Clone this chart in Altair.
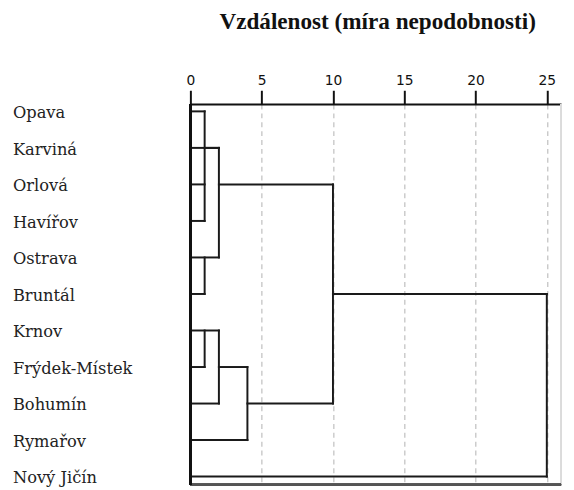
import altair as alt
import pandas as pd

# Leaves (top to bottom) of the dendrogram
cities = ["Opava", "Karviná", "Orlová", "Havířov", "Ostrava", "Bruntál",
          "Krnov", "Frýdek-Místek", "Bohumín", "Rymařov", "Nový Jičín"]
rows = list(range(len(cities)))

# Dendrogram segments: distance from/to and row from/to
seg_x1 = [0, 0, 0, 0, 0, 0, 0, 0, 0, 0, 0,
          1, 1, 2, 2, 1, 1, 2, 2, 4, 4, 10, 10, 25]
seg_x2 = [1, 2, 1, 1, 2, 1, 2, 1, 2, 4, 25,
          1, 2, 2, 10, 1, 1, 2, 4, 4, 10, 10, 25, 25]
seg_y1 = [0, 1, 2, 3, 4, 5, 6, 7, 8, 9, 10,
          0, 1, 1, 2, 4, 6, 6, 7, 7, 8, 2, 5, 5]
seg_y2 = [0, 1, 2, 3, 4, 5, 6, 7, 8, 9, 10,
          3, 1, 4, 2, 5, 7, 8, 7, 9, 8, 8, 5, 10]

tick_values = [0, 5, 10, 15, 20, 25]
title_text = "Vzdálenost (míra nepodobnosti)"

W, H = 376, 386
x_scale = alt.Scale(domain=[0, 26], nice=False, zero=False)
y_scale = alt.Scale(domain=[-0.2, 10.22], nice=False, zero=False, reverse=True)

segs = pd.DataFrame({"x1": seg_x1, "x2": seg_x2, "y1": seg_y1, "y2": seg_y2})
labels = pd.DataFrame({"city": cities, "row": rows})

dendro = alt.Chart(segs).mark_rule(color="#1a1a1a", strokeWidth=2, strokeCap="square").encode(
    x=alt.X("x1:Q", scale=x_scale,
            axis=alt.Axis(orient="top", values=tick_values, title=None,
                          grid=True, gridColor="#c4c4c4", gridDash=[5, 4], gridWidth=1.3,
                          domainColor="#111", domainWidth=2,
                          tickColor="#111", tickWidth=2, tickSize=14,
                          labelFont="DejaVu Sans", labelFontSize=14, labelColor="#111",
                          labelPadding=3, labelFlush=False)),
    x2="x2:Q",
    y=alt.Y("y1:Q", scale=y_scale, axis=None),
    y2="y2:Q",
)

text = alt.Chart(labels).mark_text(
    align="left", baseline="alphabetic", dy=7, font="DejaVu Serif",
    fontSize=16.5, color="#222"
).encode(
    x=alt.value(-180),
    y=alt.Y("row:Q", scale=y_scale),
    text="city:N",
)

frame_left = alt.Chart(labels).mark_rule(color="#111", strokeWidth=2).encode(
    x=alt.value(0), y=alt.value(0), y2=alt.value(H))
frame_bottom = alt.Chart(labels).mark_rule(color="#555", strokeWidth=2).encode(
    x=alt.value(0), x2=alt.value(W), y=alt.value(H))
frame_right = alt.Chart(labels).mark_rule(color="#dcdcdc", strokeWidth=1.5).encode(
    x=alt.value(W), y=alt.value(0), y2=alt.value(H))

chart = alt.layer(frame_right, frame_bottom, dendro, frame_left, text).properties(
    width=W, height=H,
    autosize=alt.AutoSizeParams(type="none"),
    padding={"left": 185, "top": 94, "right": 5, "bottom": 1},
    title=alt.TitleParams(title_text, font="Liberation Serif", fontSize=23.5,
                          fontWeight="bold", color="#111", anchor="middle",
                          baseline="alphabetic", offset=22, dx=2),
).configure_view(stroke=None)

chart.save("out.html", embed_options={"renderer": "svg", "actions": False})
